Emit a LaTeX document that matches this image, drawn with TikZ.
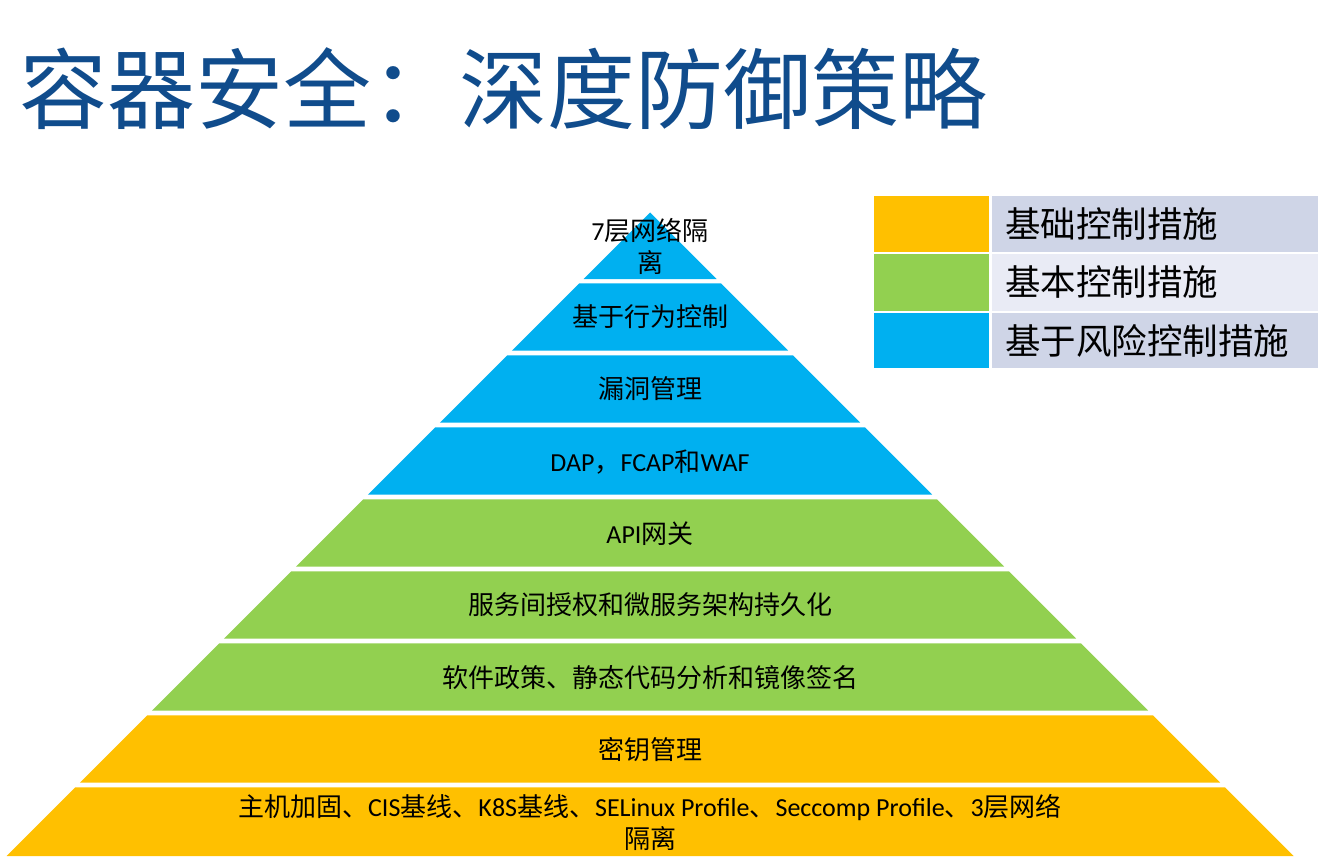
\documentclass[tikz,border=0pt]{standalone}
\usepackage{fontspec}
\setmainfont{Noto Sans CJK SC}
\newfontfamily\lat{Carlito}
\definecolor{titleblue}{HTML}{104C8C}
\definecolor{pblue}{HTML}{00B0F0}
\definecolor{pgreen}{HTML}{92D050}
\definecolor{porange}{HTML}{FFC000}
\definecolor{legdark}{HTML}{CFD5E7}
\definecolor{leglight}{HTML}{E9EBF5}
\newcommand\pyrlayer[3]{%
  \fill[#3] ({650-(#1-212.5)},#1) -- ({650+(#1-212.5)},#1) -- ({650+(#2-212.5)},#2) -- ({650-(#2-212.5)},#2) -- cycle;}
\newcommand\latw[1]{{\lat #1}}
\tikzset{
  ltext/.style={inner sep=0pt, text=black, font=\fontsize{26}{32}\selectfont, align=center},
  legtext/.style={inner sep=0pt, text=black, anchor=west, font=\fontsize{35.5}{40}\selectfont},
}
\begin{document}
\begin{tikzpicture}[x=1pt,y=-1pt]
\useasboundingbox (0,0) rectangle (1320,861);
\fill[white] (0,0) rectangle (1320,861);
% title
\node[anchor=west, inner sep=0pt, text=titleblue, font=\fontsize{88}{92}\selectfont] (title) at (19,89) {容器安全：深度防御策略};
% pyramid layers
\pyrlayer{212.5}{279}{pblue}
\pyrlayer{283.3}{350.7}{pblue}
\pyrlayer{355.3}{422.7}{pblue}
\pyrlayer{427.3}{494.7}{pblue}
\pyrlayer{499.3}{566.7}{pgreen}
\pyrlayer{571.3}{638.7}{pgreen}
\pyrlayer{643.3}{710.7}{pgreen}
\pyrlayer{715.3}{782.7}{porange}
\pyrlayer{787.3}{856}{porange}
% layer texts
\node[ltext] (l1) at (650,246) {\latw{7}层网络隔\\离};
\node[ltext] (l2) at (650,317) {基于行为控制};
\node[ltext] (l3) at (650,389) {漏洞管理};
\node[ltext] (l4) at (650,462) {\latw{DAP}，\latw{FCAP}和\latw{WAF}};
\node[ltext] (l5) at (650,534) {\latw{API}网关};
\node[ltext] (l6) at (650,605) {服务间授权和微服务架构持久化};
\node[ltext] (l7) at (650,678) {软件政策、静态代码分析和镜像签名};
\node[ltext] (l8) at (650,750) {密钥管理};
\node[ltext] (l9) at (650,822) {主机加固、\latw{CIS}基线、\latw{K8S}基线、\latw{SELinux Profile}、\latw{Seccomp Profile}、\latw{3}层网络\\隔离};
% legend
\fill[porange] (874,196) rectangle (989,251.7);
\fill[pgreen] (874,254) rectangle (989,310.7);
\fill[pblue] (874,313.3) rectangle (989,368.3);
\fill[legdark] (991.5,196) rectangle (1318,251.7);
\fill[leglight] (991.5,254) rectangle (1318,310.7);
\fill[legdark] (991.5,313.3) rectangle (1318,368.3);
\node[legtext] (g1) at (1005,224) {基础控制措施};
\node[legtext] (g2) at (1005,282) {基本控制措施};
\node[legtext] (g3) at (1005,341) {基于风险控制措施};
\end{tikzpicture}
\end{document}
